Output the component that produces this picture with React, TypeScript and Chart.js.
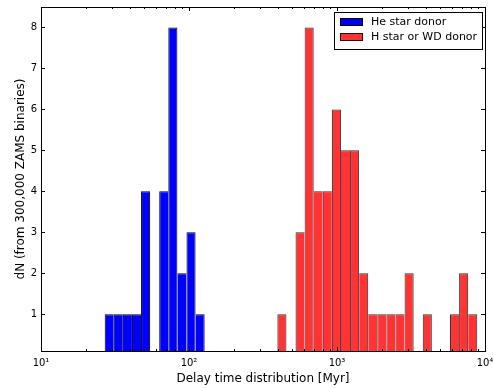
import React, { useEffect, useRef } from "react";
import { Chart, registerables } from "chart.js";

Chart.register(...registerables);

// ---- Data ----
// Histogram binning: log10-spaced bins shared by both series
const BIN_START_LOG = 1.4304;
const BIN_WIDTH_LOG = 0.0614;

const SERIES_LABELS = ["He star donor", "H star or WD donor"];

const HE_STAR_COUNTS = [
  1, 1, 1, 1, 4, 0, 4, 8, 2, 3, 1,
  0, 0, 0, 0, 0, 0, 0, 0, 0, 0, 0, 0, 0, 0, 0, 0, 0, 0, 0,
  0, 0, 0, 0, 0, 0, 0, 0, 0, 0, 0,
];

const H_STAR_WD_COUNTS = [
  0, 0, 0, 0, 0, 0, 0, 0, 0, 0, 0, 0, 0, 0, 0, 0, 0, 0, 0,
  1, 0, 3, 8, 4, 4, 6, 5, 5, 2, 1, 1, 1, 1, 2, 0, 1, 0, 0, 1, 2, 1,
];

const X_MAJOR_TICKS = [10, 100, 1000, 10000];
const X_TICK_LABELS = ["10\u00b9", "10\u00b2", "10\u00b3", "10\u2074"];
const X_MIN = 10;
const X_MAX = 10000;
const Y_TICKS = [1, 2, 3, 4, 5, 6, 7, 8];
const Y_MIN = 0.1;
const Y_MAX = 8.5;

const X_TITLE = "Delay time distribution [Myr]";
const Y_TITLE = "dN (from 300,000 ZAMS binaries)";

// ---- Styles ----
const FONT = "DejaVu Sans";
const BLUE = "#0000ff";
const BLUE_EDGE = "#000000";
const RED = "rgba(255,0,0,0.8)";
const RED_EDGE = "rgba(0,0,0,0.8)";

const binCenter = (i: number) =>
  Math.pow(10, BIN_START_LOG + (i + 0.5) * BIN_WIDTH_LOG);

const minorTicks: number[] = [];
for (let d = 10; d < X_MAX; d *= 10) {
  for (let m = 2; m <= 9; m++) minorTicks.push(m * d);
}

function makeDataset(label: string, counts: number[], bg: string, edge: string) {
  const data = counts
    .map((c, i) => ({ x: binCenter(i), y: c, bin: i }))
    .filter((p) => p.y > 0);
  return {
    type: "bar" as const,
    label,
    data,
    backgroundColor: bg,
    borderColor: edge,
    borderSkipped: false,
    inflateAmount: 0,
    grouped: false,
    barPercentage: 1,
    categoryPercentage: 1,
    clip: 0,
    borderWidth: (ctx: any) => {
      const p = ctx.raw;
      if (!p) return 1;
      const prev = counts[p.bin - 1] ?? 0;
      const next = counts[p.bin + 1] ?? 0;
      return {
        top: 1,
        bottom: 0,
        left: prev <= p.y ? 1 : 0,
        right: next < p.y ? 1 : 0,
      };
    },
  };
}

const mplFramePlugin = {
  id: "mplFrame",
  afterDatasetsDraw(chart: any) {
    const { ctx, chartArea: a, scales } = chart;
    const x = scales.x;
    const y = scales.y;
    ctx.save();
    ctx.strokeStyle = "#000";
    ctx.lineWidth = 1;
    ctx.beginPath();
    const vx = (v: number) => Math.round(x.getPixelForValue(v)) + 0.5;
    const vy = (v: number) => Math.round(y.getPixelForValue(v)) + 0.5;
    for (const v of X_MAJOR_TICKS) {
      const px = vx(v);
      ctx.moveTo(px, a.bottom);
      ctx.lineTo(px, a.bottom - 4);
      ctx.moveTo(px, a.top);
      ctx.lineTo(px, a.top + 4);
    }
    for (const v of minorTicks) {
      const px = vx(v);
      ctx.moveTo(px, a.bottom);
      ctx.lineTo(px, a.bottom - 2);
      ctx.moveTo(px, a.top);
      ctx.lineTo(px, a.top + 2);
    }
    for (const v of Y_TICKS) {
      const py = vy(v);
      ctx.moveTo(a.left, py);
      ctx.lineTo(a.left + 4, py);
      ctx.moveTo(a.right, py);
      ctx.lineTo(a.right - 4, py);
    }
    ctx.stroke();
    ctx.strokeRect(a.left + 0.5, a.top + 0.5, a.right - a.left, a.bottom - a.top);

    // Legend (matplotlib style, inside upper right)
    ctx.font = `11px "${FONT}"`;
    const items = [
      { label: SERIES_LABELS[0], fill: BLUE, edge: BLUE_EDGE },
      { label: SERIES_LABELS[1], fill: RED, edge: RED_EDGE },
    ];
    const tw = Math.max(...items.map((it) => ctx.measureText(it.label).width));
    const W = Math.round(37 + tw + 5);
    const H = 37;
    const bx = Math.round(a.right - 3 - W);
    const by = Math.round(a.top + 5);
    ctx.fillStyle = "#fff";
    ctx.fillRect(bx, by, W, H);
    ctx.strokeStyle = "#000";
    ctx.strokeRect(bx + 0.5, by + 0.5, W, H);
    items.forEach((it, i) => {
      const sy = by + 6 + i * 15;
      ctx.fillStyle = "#fff";
      ctx.fillRect(bx + 6, sy, 23, 8);
      ctx.fillStyle = it.fill;
      ctx.fillRect(bx + 6, sy, 23, 8);
      ctx.strokeStyle = it.edge;
      ctx.strokeRect(bx + 6.5, sy + 0.5, 22, 7);
      ctx.fillStyle = "#000";
      ctx.textBaseline = "middle";
      ctx.textAlign = "left";
      ctx.fillText(it.label, bx + 37, sy + 4);
    });
    ctx.restore();
  },
};

export default function App() {
  const ref = useRef<HTMLCanvasElement>(null);
  useEffect(() => {
    const canvas = ref.current;
    if (!canvas) return;
    const chart = new Chart(canvas, {
      type: "bar",
      data: {
        datasets: [
          makeDataset(SERIES_LABELS[0], HE_STAR_COUNTS, BLUE, BLUE_EDGE),
          makeDataset(SERIES_LABELS[1], H_STAR_WD_COUNTS, RED, RED_EDGE),
        ] as any,
      },
      options: {
        animation: false,
        responsive: false,
        events: [],
        layout: { padding: { top: 7, right: 8, left: 0, bottom: 0 } },
        plugins: {
          legend: { display: false },
          tooltip: { enabled: false },
        },
        scales: {
          x: {
            type: "logarithmic",
            min: X_MIN,
            max: X_MAX,
            grid: { display: false, drawTicks: false, tickLength: 0 },
            border: { display: false },
            afterBuildTicks: (s: any) => {
              s.ticks = X_MAJOR_TICKS.map((v) => ({ value: v, major: true }));
            },
            afterFit: (s: any) => {
              s.height = 37;
              s.paddingLeft = 0;
              s.paddingRight = 0;
            },
            ticks: {
              autoSkip: false,
              maxRotation: 0,
              padding: 6,
              color: "#000",
              font: { family: FONT, size: 10 },
              callback: (v: any) => {
                const idx = X_MAJOR_TICKS.indexOf(Number(v));
                return idx >= 0 ? X_TICK_LABELS[idx] : "";
              },
            },
            title: {
              display: true,
              text: X_TITLE,
              color: "#000",
              font: { family: FONT, size: 12 },
              padding: { top: 0, bottom: 2 },
            },
          },
          y: {
            type: "linear",
            min: Y_MIN,
            max: Y_MAX,
            grid: { display: false, drawTicks: false, tickLength: 0 },
            border: { display: false },
            afterBuildTicks: (s: any) => {
              s.ticks = Y_TICKS.map((v) => ({ value: v }));
            },
            afterFit: (s: any) => {
              s.width = 41;
              s.paddingTop = 0;
              s.paddingBottom = 0;
            },
            ticks: {
              padding: 4,
              color: "#000",
              font: { family: FONT, size: 10 },
              callback: (v: any) => String(v),
            },
            title: {
              display: true,
              text: Y_TITLE,
              color: "#000",
              font: { family: FONT, size: 12 },
              padding: { top: 14, bottom: 0 },
            },
          },
        },
      } as any,
      plugins: [mplFramePlugin],
    });
    return () => chart.destroy();
  }, []);
  return (
    <div style={{ position: "absolute", left: 0, top: 0, width: 493, height: 388 }}>
      <canvas ref={ref} width={493} height={388} style={{ display: "block" }} />
    </div>
  );
}
